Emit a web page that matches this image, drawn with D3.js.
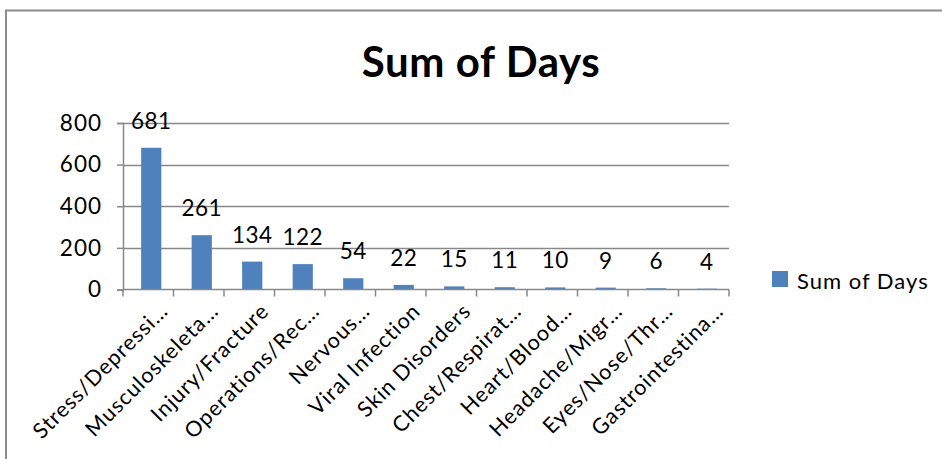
<!DOCTYPE html>
<html>
<head>
<meta charset="utf-8">
<script src="https://cdn.jsdelivr.net/npm/d3@7"></script>
<style>
  html, body { margin: 0; padding: 0; background: #fff; }
  svg { display: block; }
  text { font-family: Lato, "Open Sans", sans-serif; fill: #000; }
</style>
</head>
<body>
<svg id="chart" width="942" height="459"></svg>
<script>
const categories = ["Stress/Depressi…", "Musculoskeleta…", "Injury/Fracture", "Operations/Rec…", "Nervous…", "Viral Infection", "Skin Disorders", "Chest/Respirat…", "Heart/Blood…", "Headache/Migr…", "Eyes/Nose/Thr…", "Gastrointestina…"];
const values = [681, 261, 134, 122, 54, 22, 15, 11, 10, 9, 6, 4];
const yTicks = [0, 200, 400, 600, 800];
const seriesName = "Sum of Days";
const title = "Sum of Days";

(function () {
const svg = d3.select("#chart");
const W = 942, H = 459;

// chart border
svg.append("rect").attr("x", 6).attr("y", 10.5).attr("width", W).attr("height", H)
  .attr("fill", "none").attr("stroke", "#8c8c8c").attr("stroke-width", 2);

const pLeft = 123, pRight = 729, pTop = 123, pBottom = 289.5;

const x = d3.scaleBand().domain(categories).range([pLeft, pRight]).paddingInner(0.6).paddingOuter(0.3);
const y = d3.scaleLinear().domain([0, 800]).range([pBottom, pTop]);

// gridlines
svg.append("g").selectAll("line").data(yTicks.filter(d => d > 0)).join("line")
  .attr("x1", pLeft).attr("x2", pRight)
  .attr("y1", d => Math.round(y(d)) + 0.5).attr("y2", d => Math.round(y(d)) + 0.5)
  .attr("stroke", "#888").attr("stroke-width", 1.5);

// bars
svg.append("g").selectAll("rect").data(values).join("rect")
  .attr("x", (d, i) => x(categories[i]) + 3)
  .attr("width", x.bandwidth())
  .attr("y", d => y(d))
  .attr("height", d => pBottom - y(d))
  .attr("fill", "#4F81BD");

// y axis
const yAxis = d3.axisLeft(y).tickValues(yTicks).tickSize(6).tickPadding(15).tickFormat(d3.format("d"));
const gy = svg.append("g").attr("transform", `translate(${pLeft},0)`).call(yAxis);
gy.select(".domain").attr("stroke", "#888").attr("stroke-width", 1.5);
gy.selectAll(".tick line").attr("stroke", "#888").attr("stroke-width", 1.5);
gy.selectAll(".tick text").attr("font-size", 22.5).attr("font-family", "Lato").attr("fill", "#000")
  .attr("letter-spacing", 1);

// x axis line and boundary ticks
const bandStep = (pRight - pLeft) / categories.length;
svg.append("line").attr("x1", pLeft).attr("x2", pRight).attr("y1", pBottom).attr("y2", pBottom)
  .attr("stroke", "#888").attr("stroke-width", 1.5);
svg.append("g").selectAll("line").data(d3.range(categories.length + 1)).join("line")
  .attr("x1", i => pLeft + i * bandStep).attr("x2", i => pLeft + i * bandStep)
  .attr("y1", pBottom).attr("y2", pBottom + 7)
  .attr("stroke", "#888").attr("stroke-width", 1.5);

// x labels rotated
svg.append("g").selectAll("text").data(categories).join("text")
  .attr("transform", d => `translate(${x(d) + x.bandwidth() / 2 + 21},${pBottom + 23}) rotate(-45)`)
  .attr("text-anchor", "end")
  .attr("font-size", 21.5)
  .attr("letter-spacing", 1)
  .text(d => d);

// data labels
svg.append("g").selectAll("text").data(values).join("text")
  .attr("x", (d, i) => x(categories[i]) + 3 + x.bandwidth() / 2)
  .attr("y", d => y(d) - 19)
  .attr("text-anchor", "middle")
  .attr("font-size", 22.5)
  .attr("letter-spacing", 0.5)
  .text(d => d);

// title
svg.append("text").attr("x", 481).attr("y", 77).attr("text-anchor", "middle")
  .attr("font-size", 42).attr("font-weight", "bold").attr("letter-spacing", 0.6).text(title);

// legend
svg.append("rect").attr("x", 772).attr("y", 271).attr("width", 16).attr("height", 16).attr("fill", "#4F81BD");
svg.append("text").attr("x", 797).attr("y", 288.5).attr("font-size", 22).attr("letter-spacing", 1).text(seriesName);
})();
</script>
</body>
</html>
